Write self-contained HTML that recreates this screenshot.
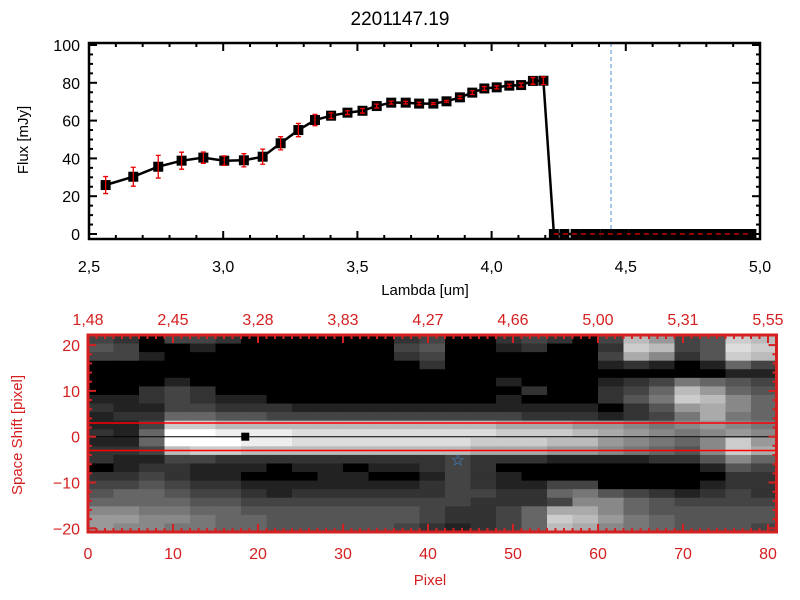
<!DOCTYPE html>
<html><head><meta charset="utf-8"><style>
html,body{margin:0;padding:0;background:#fff;}
svg{display:block;font-family:"Liberation Sans",sans-serif;}
</style></head><body>
<svg id="fig" width="800" height="600" viewBox="0 0 800 600">
<text x="400" y="25" text-anchor="middle" font-size="19">2201147.19</text>
<g id="top"></g>
<g id="bot"></g>
</svg>
<script>
// ---- top spectrum data ----
const lambdas = [2.562,2.665,2.758,2.845,2.926,3.004,3.077,3.147,3.214,3.280,3.342,3.402,3.463,3.519,3.572,3.626,3.680,3.730,3.783,3.832,3.882,3.928,3.973,4.019,4.066,4.110,4.154,4.193,4.232,4.271,4.313,4.350,4.386,4.423,4.457,4.491,4.528,4.564,4.601,4.635,4.669,4.702,4.736,4.771,4.804,4.838,4.871,4.902,4.936,4.968];
const fluxes = [25.9,30.3,35.6,38.8,40.4,38.8,39,40.9,48,55,60.3,62.6,64.2,65.2,67.7,69.5,69.5,69,69,70.2,72.3,74.8,77,77.6,78.5,78.8,81,81.1,0,0,0,0,0,0,0,0,0,0,0,0,0,0,0,0,0,0,0,0,0,0];
const errors = [4.5,5,6,4.5,3,2.5,3.5,4,3.5,3.5,3,1.5,1,1.2,1,0.8,0.7,0.7,0.5,0.5,0.7,1,1,0.8,0.8,1,1.8,2,0,0,0,0,0,0,0,0,0,0,0,0,0,0,0,0,0,0,0,0,0,0];
const xTicksTop = [2.5,3.0,3.5,4.0,4.5,5.0];
const yTicksTop = [0,20,40,60,80,100];
const markerLambda = 4.445;

// ---- image data ----
const topLabels = ["1.48","2.45","3.28","3.83","4.27","4.66","5.00","5.31","5.55"];
const pixTicks = [0,10,20,30,40,50,60,70,80];
const shiftTicks = [-20,-10,0,10,20];
const imageRows = [
"430443000000340034304b945cb",
"540020000000450023003cb45dc",
"442000000000340000004a835cb",
"000000000000030000002320264",
"000000000000000000000000022",
"000200000000000020002347654",
"00343000000000000300346b965",
"22343220000000002000357cb86",
"322443332222222222220359a86",
"233665544444444443332347a76",
"224ccbbbbbbbbbbbaaa99878987",
"326ffeeeddddddddcccba987898",
"226fffeedddddddcccbb98768c9",
"334bccbbbbbbbbbaaa9987658ca",
"322443333333334333222233586",
"023322202202234300000000254",
"334322000220024320000000033",
"445433222222234322440000233",
"566544323333334433675432343",
"666655444444444333488654444",
"887766555555543346aa8655555",
"998876655555543346cb9765555",
"988776655555432346ba8765554"
];
const spotPixel = 18.5, spotShift = 0;
const starPixel = 43.5, starShift = -5;
const apertureShift = 3;

const NS = "http://www.w3.org/2000/svg";
function mk(parent, tag, attrs){const e=document.createElementNS(NS,tag);for(const k in attrs)e.setAttribute(k,attrs[k]);parent.appendChild(e);return e;}

// ---------- top plot ----------
const T = document.getElementById('top');
const L0=89,L1=760,B=239,Tp=43;
const xs = l => L0 + (l-2.5)/2.5*(L1-L0);
const ys = v => 234 - v*1.89;
let pts = lambdas.map((l,i)=>xs(l).toFixed(1)+','+ys(fluxes[i]).toFixed(1)).join(' ');
const line = mk(T,'polyline',{points:pts,fill:'none',stroke:'#000','stroke-width':2.5});


const vl = mk(T,'line',{x1:xs(markerLambda),x2:xs(markerLambda),y1:Tp,y2:B,stroke:'#4a8fd8','stroke-width':1,'stroke-dasharray':'4,3'});


lambdas.forEach((l,i)=>{
  const x=xs(l),y=ys(fluxes[i]);
  const m=mk(T,'rect',{x:x-5,y:y-5,width:10,height:10,fill:'#000'});
  
  
  if(errors[i]>0){
    const y1=ys(fluxes[i]+errors[i]),y2=ys(fluxes[i]-errors[i]);
    const eb=mk(T,'path',{d:`M${x},${y1}V${y2}M${x-2.5},${y1}h5M${x-2.5},${y2}h5`,stroke:'#e00','stroke-width':1.3,fill:'none'});
    
    
  }
});
const zl = mk(T,'line',{x1:xs(lambdas[28]),x2:L1,y1:ys(0),y2:ys(0),stroke:'#e00','stroke-width':1.2,'stroke-dasharray':'5,4'});


// axes
mk(T,'rect',{x:L0,y:Tp,width:L1-L0,height:B-Tp,fill:'none',stroke:'#000','stroke-width':2.5});
for(let k=0;k<=25;k++){const l=2.5+k*0.1,x=xs(l),len=(k%5==0)?8:4;
  mk(T,'line',{x1:x,x2:x,y1:B,y2:B-len,stroke:'#000','stroke-width':2});
  mk(T,'line',{x1:x,x2:x,y1:Tp,y2:Tp+len,stroke:'#000','stroke-width':2});}
for(let v=0;v<=100;v+=5){const y=ys(v),len=(v%20==0)?8:4;
  mk(T,'line',{x1:L0,x2:L0+len,y1:y,y2:y,stroke:'#000','stroke-width':2});
  mk(T,'line',{x1:L1,x2:L1-len,y1:y,y2:y,stroke:'#000','stroke-width':2});}
xTicksTop.forEach(t=>{const e=mk(T,'text',{x:xs(t),y:272,'text-anchor':'middle','font-size':16});e.textContent=t.toFixed(1).replace('.',',');
  
  });
yTicksTop.forEach(t=>{const e=mk(T,'text',{x:80,y:ys(t)+6,'text-anchor':'end','font-size':16});e.textContent=t;
  
  });
let xt=mk(T,'text',{x:425,y:295,'text-anchor':'middle','font-size':15});xt.textContent='Lambda [um]';


let yt=mk(T,'text',{x:0,y:0,'text-anchor':'middle','font-size':15,transform:'translate(28,140) rotate(-90)'});yt.textContent='Flux [mJy]';



// ---------- bottom plot ----------
const Bg = document.getElementById('bot');
const PL=88,PR=776.5,PT=335,PB=532;
const px = p => PL + p*(PR-PL)/81;
const sy = s => 436.7 - s*4.58;
const nR=imageRows.length,nC=27,cw=(PR-PL)/nC,ch=(PB-PT)/nR;
imageRows.forEach((row,r)=>{for(let c=0;c<nC;c++){const v=parseInt(row[c]||'0',16)*17;
  const cell=mk(Bg,'rect',{x:(PL+c*cw).toFixed(2),y:(PT+r*ch).toFixed(2),width:(cw+0.6).toFixed(2),height:(ch+0.6).toFixed(2),fill:`rgb(${v},${v},${v})`});
  
  }});
[apertureShift,-apertureShift].forEach(s=>{const e=mk(Bg,'line',{x1:PL,x2:PR,y1:sy(s),y2:sy(s),stroke:'#f00','stroke-width':1.5});
  
  });
const cl=mk(Bg,'line',{x1:PL,x2:PR,y1:sy(0),y2:sy(0),stroke:'#000','stroke-width':1});


const sp=mk(Bg,'rect',{x:px(spotPixel)-4,y:sy(spotShift)-4,width:8,height:8,fill:'#000'});


const st=mk(Bg,'text',{x:px(starPixel),y:sy(starShift)+6,'text-anchor':'middle','font-size':16,fill:'#3a8fe0'});st.textContent='☆';


const red='#d42020';
mk(Bg,'rect',{x:PL,y:PT,width:PR-PL,height:PB-PT,fill:'none',stroke:red,'stroke-width':3});
for(let p=0;p<=81;p++){const x=px(p),len=(p%10==0)?8:4;
  mk(Bg,'line',{x1:x,x2:x,y1:PB,y2:PB-len,stroke:red,'stroke-width':2});
  mk(Bg,'line',{x1:x,x2:x,y1:PT,y2:PT+len,stroke:red,'stroke-width':2});}
for(let s=-20;s<=20;s+=2){const y=sy(s),len=(s%10==0)?8:4;
  mk(Bg,'line',{x1:PL,x2:PL+len,y1:y,y2:y,stroke:red,'stroke-width':2});
  mk(Bg,'line',{x1:PR,x2:PR-len,y1:y,y2:y,stroke:red,'stroke-width':2});}
pixTicks.forEach(t=>{const e=mk(Bg,'text',{x:px(t),y:559,'text-anchor':'middle','font-size':16,fill:red});e.textContent=t;
  
  });
topLabels.forEach((t,i)=>{const e=mk(Bg,'text',{x:px(i*10),y:325,'text-anchor':'middle','font-size':16,fill:red});e.textContent=t.replace('.',',');
  
  });
shiftTicks.forEach(t=>{const e=mk(Bg,'text',{x:80,y:sy(t)+6,'text-anchor':'end','font-size':16,fill:red});e.textContent=(t<0?'\u2212'+(-t):t);
  
  });
let bx=mk(Bg,'text',{x:430,y:585,'text-anchor':'middle','font-size':15,fill:red});bx.textContent='Pixel';


let by=mk(Bg,'text',{x:0,y:0,'text-anchor':'middle','font-size':15,fill:red,transform:'translate(22,435) rotate(-90)'});by.textContent='Space Shift [pixel]';


</script>
</body></html>
